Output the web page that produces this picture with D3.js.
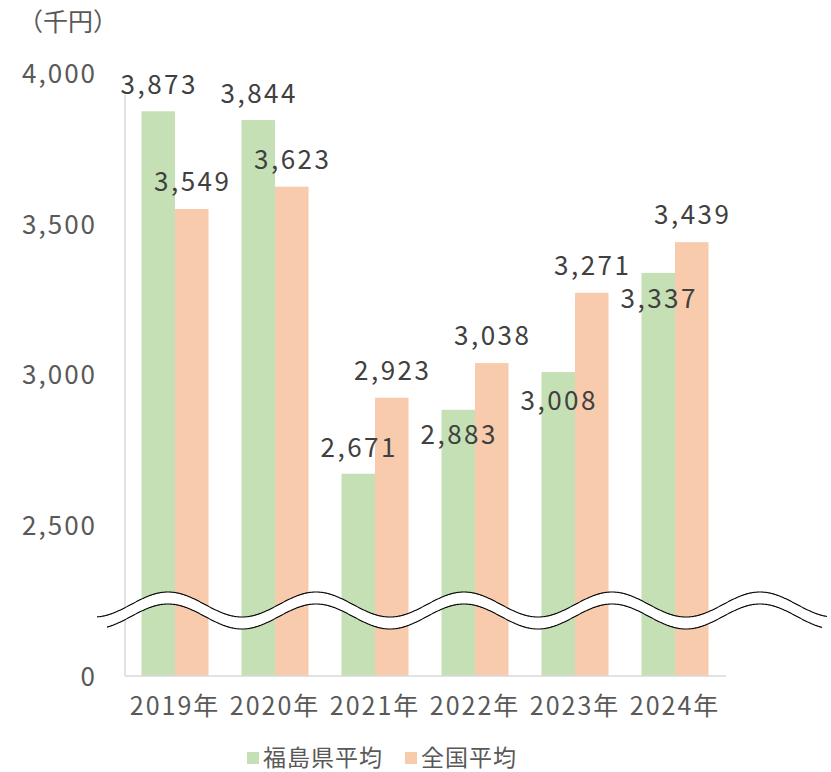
<!DOCTYPE html>
<html>
<head>
<meta charset="utf-8">
<script src="https://cdn.jsdelivr.net/npm/d3@7"></script>
<style>
  body { margin: 0; background: #fff; }
  text { font-family: "Noto Sans CJK JP", "Noto Sans", sans-serif; }
</style>
</head>
<body>
<div class="chart"></div>
<script>
const years = ["2019年", "2020年", "2021年", "2022年", "2023年", "2024年"];
const fukushima = [3873, 3844, 2671, 2883, 3008, 3337];
const national = [3549, 3623, 2923, 3038, 3271, 3439];
const seriesNames = ["福島県平均", "全国平均"];
const yTicks = [0, 2500, 3000, 3500, 4000];
const unitLabel = "（千円）";

// label placement relative to bar top (baseline offset)
const greenLabelDy = [-17, -17, -17, 34, 38, 35];
const orangeLabelDy = [-18, -18, -18, -18, -18, -18];

const W = 831, H = 772;
const colors = ["#c5e0b4", "#f8cbad"];
const axisBreak = 2000; // values below this are hidden behind the wave

const svg = d3.select(".chart").append("svg")
    .attr("width", W)
    .attr("height", H);

const x = d3.scaleBand()
    .domain(years)
    .range([125, 725])
    .paddingInner(0.33)
    .paddingOuter(0.165);

const y = d3.scaleLinear()
    .domain([axisBreak, 4000])
    .range([676, 73]);

const bw = x.bandwidth() / 2;

// bars
const series = [fukushima, national];
series.forEach((vals, s) => {
    svg.append("g").selectAll("rect")
        .data(vals)
        .enter()
        .append("rect")
        .attr("x", (d, i) => x(years[i]) + s * bw)
        .attr("y", d => y(d))
        .attr("width", bw)
        .attr("height", d => y(axisBreak) - y(d))
        .attr("fill", colors[s]);
});

// axis lines
svg.append("line")
    .attr("x1", 125).attr("x2", 125)
    .attr("y1", 95).attr("y2", y(axisBreak))
    .attr("stroke", "#d9d9d9").attr("stroke-width", 1.5);
svg.append("line")
    .attr("x1", 125).attr("x2", 726)
    .attr("y1", y(axisBreak)).attr("y2", y(axisBreak))
    .attr("stroke", "#d9d9d9").attr("stroke-width", 1.5);

// y tick labels (0 sits at the break)
const yg = svg.append("g")
    .attr("transform", "translate(97,0)")
    .call(d3.axisLeft(y)
        .tickValues(yTicks.map(d => Math.max(d, axisBreak)))
        .tickSize(0)
        .tickFormat((d, i) => d3.format(",")(yTicks[i])));
yg.select(".domain").remove();
yg.selectAll("text")
    .attr("x", 0)
    .attr("dy", "0.36em")
    .attr("fill", "#595959")
    .style("font-size", "26px")
    .style("letter-spacing", "2px")
    .style("font-family", "'Noto Sans CJK JP', sans-serif");

// x tick labels
const xg = svg.append("g")
    .attr("transform", "translate(0," + y(axisBreak) + ")")
    .call(d3.axisBottom(x).tickSize(0));
xg.select(".domain").remove();
xg.selectAll("text")
    .attr("y", 0)
    .attr("dy", 39)
    .attr("fill", "#595959")
    .style("font-size", "25px")
    .style("letter-spacing", "2px")
    .style("font-family", "'Noto Sans CJK JP', sans-serif");

// unit label
svg.append("text")
    .attr("x", 18)
    .attr("y", 31)
    .attr("fill", "#595959")
    .style("font-size", "25px")
    .text(unitLabel);

// axis break wave
const period = 148, amp = 12.5, phase0 = 168, gap = 12;
const topY = xx => 604.5 - amp * Math.cos(2 * Math.PI * (xx - phase0) / period);
const topPts = d3.range(97, 828, 1).map(xx => [xx, topY(xx)]);
const botPts = d3.range(107, 823, 1).map(xx => [xx, topY(xx) + gap]);
svg.append("path")
    .attr("d", d3.line()(topPts.concat(botPts.slice().reverse())) + "Z")
    .attr("fill", "#fff");
svg.append("path")
    .attr("d", d3.line()(topPts))
    .attr("fill", "none").attr("stroke", "#000").attr("stroke-width", 1.1);
svg.append("path")
    .attr("d", d3.line()(botPts))
    .attr("fill", "none").attr("stroke", "#000").attr("stroke-width", 1.1);

// data labels
const labelDy = [greenLabelDy, orangeLabelDy];
series.forEach((vals, s) => {
    svg.append("g").selectAll("text")
        .data(vals)
        .enter()
        .append("text")
        .attr("x", (d, i) => x(years[i]) + s * bw + bw / 2 + 1)
        .attr("y", (d, i) => y(d) + labelDy[s][i])
        .attr("text-anchor", "middle")
        .attr("fill", "#404040")
        .style("font-size", "26px")
        .style("letter-spacing", "2.5px")
        .text(d => d3.format(",")(d));
});

// legend
const legend = svg.append("g").attr("transform", "translate(0,758)");
const legendX = [247, 405];
seriesNames.forEach((name, s) => {
    legend.append("rect")
        .attr("x", legendX[s]).attr("y", -6)
        .attr("width", 12).attr("height", 12)
        .attr("fill", colors[s]);
    legend.append("text")
        .attr("x", legendX[s] + 16)
        .attr("y", 0)
        .attr("dy", "0.36em")
        .attr("fill", "#595959")
        .style("font-size", "23px")
        .style("letter-spacing", "1px")
        .text(name);
});
</script>
</body>
</html>
